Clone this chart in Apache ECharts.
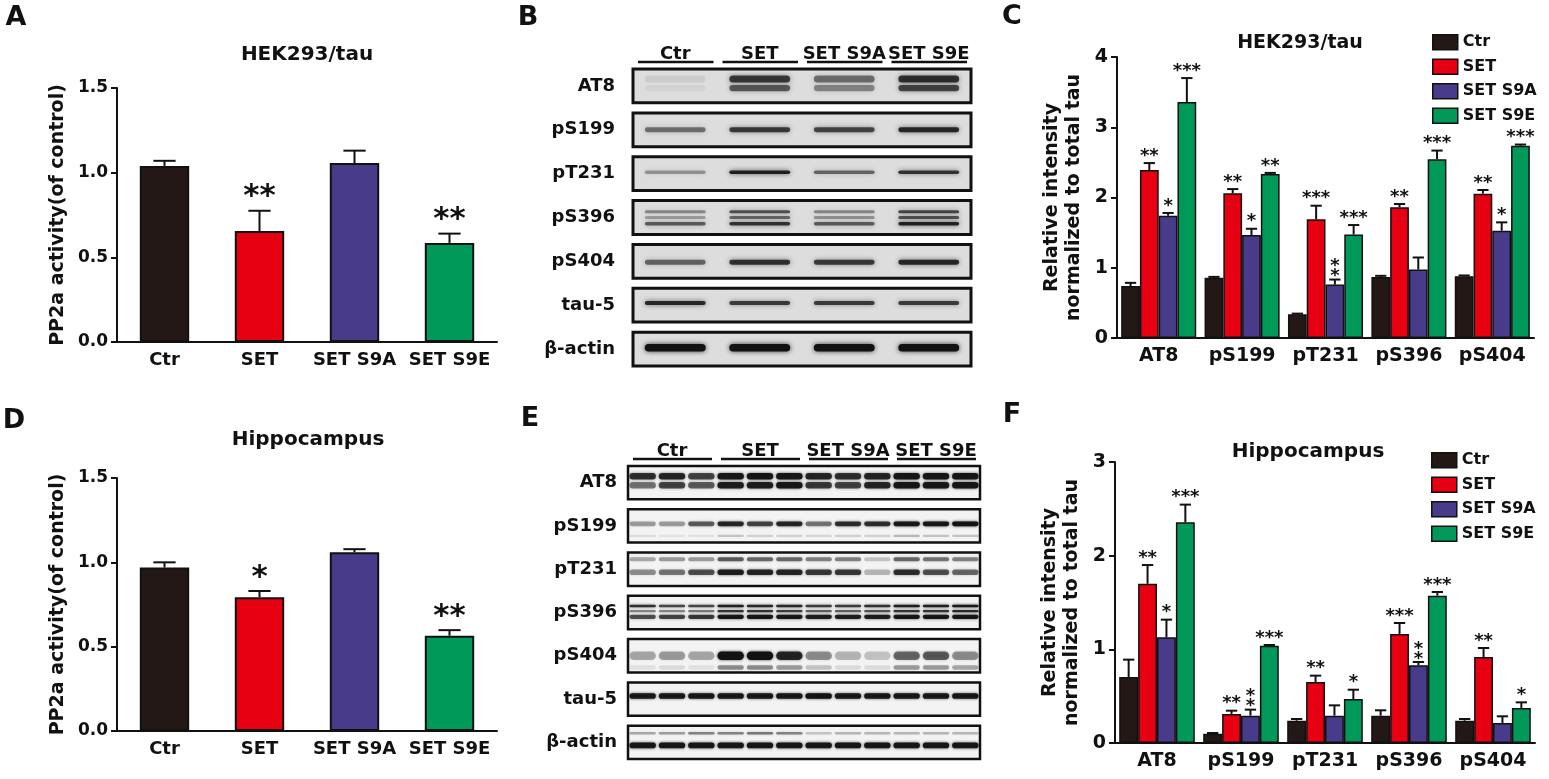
<!DOCTYPE html>
<html>
<head>
<meta charset="utf-8">
<script src="https://cdn.jsdelivr.net/npm/echarts@6/dist/echarts.min.js"></script>
<style>
html,body{margin:0;padding:0;background:#fff}
#fig{width:1549px;height:779px}
</style>
</head>
<body>
<div id="fig"></div>
<script>
var FONT = 'DejaVu Sans';

// groups and colours
var groups = ['Ctr', 'SET', 'SET S9A', 'SET S9E'];
var colors = ['#231815', '#e60012', '#483c8a', '#00995a'];

// tick labels
var ticksPP2a = [0, 0.5, 1.0, 1.5];
var ticksC = [0, 1, 2, 3, 4];
var ticksF = [0, 1, 2, 3];

// A: PP2a activity, HEK293/tau
var actA = [1.04, 0.655, 1.057, 0.585];
var errA = [1.07, 0.775, 1.13, 0.64];
var starA = ['', '**', '', '**'];

// D: PP2a activity, hippocampus
var actD = [0.969, 0.793, 1.06, 0.565];
var errD = [1.0, 0.83, 1.078, 0.598];
var starD = ['', '*', '', '**'];

// C / F: tau sites
var sites = ['AT8', 'pS199', 'pT231', 'pS396', 'pS404'];

var cCtr = [0.74, 0.856, 0.338, 0.87, 0.88];
var cSet = [2.39, 2.06, 1.69, 1.86, 2.055];
var cS9A = [1.74, 1.465, 0.76, 0.975, 1.527];
var cS9E = [3.36, 2.335, 1.474, 2.545, 2.735];
var cCtrErr = [0.785, 0.87, 0.347, 0.885, 0.89];
var cSetErr = [2.49, 2.12, 1.883, 1.907, 2.107];
var cS9AErr = [1.78, 1.555, 0.832, 1.146, 1.646];
var cS9EErr = [3.70, 2.35, 1.608, 2.668, 2.754];
var cCtrStar = ['', '', '', '', ''];
var cSetStar = ['**', '**', '***', '**', '**'];
var cS9AStar = ['*', '*', '*\n*', '', '*'];
var cS9EStar = ['***', '**', '***', '***', '***'];

var fCtr = [0.705, 0.10, 0.238, 0.292, 0.238];
var fSet = [1.70, 0.31, 0.651, 1.164, 0.918];
var fS9A = [1.128, 0.292, 0.292, 0.829, 0.214];
var fS9E = [2.356, 1.039, 0.47, 1.573, 0.374];
var fCtrErr = [0.89, 0.107, 0.256, 0.349, 0.256];
var fSetErr = [1.90, 0.345, 0.719, 1.281, 1.014];
var fS9AErr = [1.317, 0.356, 0.402, 0.865, 0.285];
var fS9EErr = [2.545, 1.046, 0.569, 1.612, 0.434];
var fCtrStar = ['', '', '', '', ''];
var fSetStar = ['**', '**', '**', '***', '**'];
var fS9AStar = ['*', '*\n*', '', '*\n*', ''];
var fS9EStar = ['***', '***', '*', '***', '*'];

// blots: rows, band offsets (fraction of row), band thickness, levels per band per lane
var blotRows = ['AT8', 'pS199', 'pT231', 'pS396', 'pS404', 'tau-5', 'β-actin'];

var bOffsets = [[-0.16, 0.05], [0], [-0.03], [-0.13, 0, 0.14], [0.02], [-0.05], [-0.03]];
var bThick = [[0.16, 0.14], [0.11], [0.08], [0.07, 0.07, 0.08], [0.11], [0.09], [0.17]];
var bLevels = [
  [[0.08, 0.75, 0.5, 0.8], [0.05, 0.6, 0.4, 0.7]],
  [[0.5, 0.75, 0.7, 0.85]],
  [[0.35, 0.9, 0.55, 0.8]],
  [[0.4, 0.65, 0.4, 0.7], [0.3, 0.55, 0.35, 0.65], [0.6, 0.8, 0.6, 0.9]],
  [[0.55, 0.8, 0.75, 0.85]],
  [[0.85, 0.75, 0.75, 0.75]],
  [[1, 1, 1, 1]]
];

var eOffsets = [[-0.15, 0.06], [-0.05, 0.23], [-0.23, 0.07], [-0.15, -0.03, 0.1], [0, 0.27], [-0.07], [-0.21, 0.07]];
var eThick = [[0.15, 0.15], [0.11, 0.05], [0.09, 0.13], [0.06, 0.05, 0.1], [0.2, 0.1], [0.13], [0.06, 0.13]];
var eLevels = [
  [[0.8, 0.85, 0.7, 0.95, 0.95, 0.95, 0.85, 0.8, 0.85, 0.95, 0.95, 0.95],
   [0.5, 0.7, 0.6, 0.9, 0.9, 0.95, 0.75, 0.7, 0.85, 0.95, 0.95, 0.95]],
  [[0.35, 0.35, 0.6, 0.85, 0.7, 0.85, 0.5, 0.8, 0.8, 0.95, 0.95, 1],
   [0.1, 0.08, 0.08, 0.2, 0.15, 0.15, 0.12, 0.15, 0.15, 0.25, 0.2, 0.2]],
  [[0.3, 0.35, 0.35, 0.6, 0.55, 0.55, 0.45, 0.45, 0.2, 0.55, 0.5, 0.45],
   [0.4, 0.5, 0.65, 0.9, 0.85, 0.85, 0.75, 0.75, 0.25, 0.8, 0.65, 0.55]],
  [[0.8, 0.7, 0.7, 0.9, 0.85, 0.85, 0.75, 0.75, 0.8, 0.9, 0.9, 0.95],
   [0.45, 0.45, 0.5, 0.8, 0.8, 0.75, 0.6, 0.6, 0.65, 0.8, 0.8, 0.85],
   [0.65, 0.7, 0.75, 0.95, 0.95, 0.95, 0.9, 0.9, 0.9, 0.95, 0.95, 0.95]],
  [[0.3, 0.35, 0.3, 1, 1, 0.85, 0.4, 0.25, 0.2, 0.55, 0.6, 0.4],
   [0.08, 0.1, 0.08, 0.4, 0.4, 0.35, 0.2, 0.1, 0.1, 0.35, 0.35, 0.3]],
  [[0.95, 0.95, 0.95, 0.95, 0.95, 0.95, 1, 0.95, 0.95, 0.95, 0.95, 0.95]],
  [[0.3, 0.35, 0.45, 0.45, 0.5, 0.45, 0.2, 0.25, 0.25, 0.25, 0.25, 0.25],
   [0.95, 0.95, 0.95, 0.95, 0.95, 0.95, 0.95, 0.95, 0.95, 0.95, 0.95, 0.95]]
];

var chart = echarts.init(document.getElementById('fig'));

function bold(size) { return {fontFamily: FONT, fontWeight: 'bold', fontSize: size, color: '#111'}; }

function xCat(grid, data, size) {
  return {
    type: 'category', gridIndex: grid, data: data,
    axisLine: {lineStyle: {color: '#111', width: 2}},
    axisTick: {alignWithLabel: true, length: 6, lineStyle: {width: 2, color: '#111'}},
    axisLabel: Object.assign(bold(size), {margin: 9, interval: 0})
  };
}

function yVal(grid, ticks, size, name, gap, fmt) {
  return {
    type: 'value', gridIndex: grid,
    min: ticks[0], max: ticks[ticks.length - 1], interval: ticks[1] - ticks[0],
    name: name, nameLocation: 'middle', nameGap: gap, nameRotate: 90,
    nameTextStyle: Object.assign(bold(19), {lineHeight: 22}),
    axisLine: {show: true, lineStyle: {color: '#111', width: 2}},
    axisTick: {show: true, length: 6, lineStyle: {width: 2, color: '#111'}},
    splitLine: {show: false},
    axisLabel: Object.assign(bold(size), {margin: 9, formatter: fmt})
  };
}

// error bar + significance stars
function errRender(stars, k, n, capFrac, starSize, barFrac) {
  return function (params, api) {
    var i = api.value(0);
    var base = api.coord([i, api.value(1)]);
    var top = api.coord([i, api.value(2)]);
    var W = api.size([1, 0])[0];
    var bw = n === 1 ? W * barFrac : W * 0.9 / n;
    var cx = n === 1 ? base[0] : base[0] + (k - (n - 1) / 2) * bw;
    var hw = bw * capFrac / 2;
    var kids = [
      {type: 'line', shape: {x1: cx, y1: base[1], x2: cx, y2: top[1]}, style: {stroke: '#111', lineWidth: 2}},
      {type: 'line', shape: {x1: cx - hw, y1: top[1], x2: cx + hw, y2: top[1]}, style: {stroke: '#111', lineWidth: 2}}
    ];
    var s = stars[params.dataIndex];
    if (s) {
      kids.push({type: 'text', x: cx, y: top[1] + 2, style: {
        text: s, font: 'bold ' + starSize + 'px ' + FONT, fill: '#111',
        textAlign: 'center', textVerticalAlign: 'bottom', lineHeight: s.indexOf('\n') >= 0 ? 10 : starSize
      }});
    }
    return {type: 'group', children: kids};
  };
}

var series = [];

function singleBars(grid, act, err, stars) {
  series.push({
    type: 'bar', xAxisIndex: grid, yAxisIndex: grid, barWidth: '52%',
    data: act.map(function (v, i) { return {value: v, itemStyle: {color: colors[i]}}; }),
    itemStyle: {borderColor: '#111', borderWidth: 2}, z: 2
  });
  series.push({
    type: 'custom', xAxisIndex: grid, yAxisIndex: grid, z: 3,
    data: act.map(function (v, i) { return [i, v, err[i]]; }),
    renderItem: errRender(stars, 0, 1, 0.45, 31, 0.52)
  });
}

function groupedBars(grid, vals, errs, stars) {
  vals.forEach(function (v, k) {
    series.push({
      type: 'bar', name: groups[k], xAxisIndex: grid, yAxisIndex: grid,
      barGap: '0%', barCategoryGap: '10%', data: v,
      itemStyle: {color: colors[k], borderColor: '#111', borderWidth: 1.5}, z: 2
    });
  });
  vals.forEach(function (v, k) {
    series.push({
      type: 'custom', xAxisIndex: grid, yAxisIndex: grid, z: 3,
      data: v.map(function (m, i) { return [i, m, errs[k][i]]; }),
      renderItem: errRender(stars[k], k, 4, 0.6, 18)
    });
  });
}

singleBars(0, actA, errA, starA);
singleBars(1, actD, errD, starD);
groupedBars(2, [cCtr, cSet, cS9A, cS9E], [cCtrErr, cSetErr, cS9AErr, cS9EErr], [cCtrStar, cSetStar, cS9AStar, cS9EStar]);
groupedBars(3, [fCtr, fSet, fS9A, fS9E], [fCtrErr, fSetErr, fS9AErr, fS9EErr], [fCtrStar, fSetStar, fS9AStar, fS9EStar]);

// western blot panels
function blot(grid, nLanes, perGroup, offsets, thick, levels, bg, lw, laneFrac, blur) {
  var boxFrac = 0.77;
  series.push({
    type: 'custom', xAxisIndex: grid, yAxisIndex: grid, silent: true, z: 1,
    data: blotRows.map(function (r, i) { return [0, i]; }),
    renderItem: function (params, api) {
      var i = api.value(1);
      var p0 = api.coord([0, i]), p1 = api.coord([nLanes, i]);
      var h = api.size([0, 1])[1] * boxFrac;
      return {type: 'rect', shape: {x: p0[0], y: p0[1] - h / 2, width: p1[0] - p0[0], height: h},
        style: {fill: bg, stroke: '#111', lineWidth: lw}};
    }
  });
  var bands = [];
  levels.forEach(function (row, r) {
    row.forEach(function (lanes, b) {
      lanes.forEach(function (a, l) { bands.push([l + 0.5, r, a, offsets[r][b], thick[r][b]]); });
    });
  });
  series.push({
    type: 'custom', xAxisIndex: grid, yAxisIndex: grid, silent: true, z: 2,
    data: bands,
    renderItem: function (params, api) {
      var c = api.coord([api.value(0), api.value(1)]);
      var w = api.size([1, 0])[0] * laneFrac;
      var rowH = api.size([0, 1])[1];
      var h = Math.max(2, api.value(4) * rowH);
      var y = c[1] + api.value(3) * rowH;
      var a = api.value(2);
      return {type: 'rect', shape: {x: c[0] - w / 2, y: y - h / 2, width: w, height: h, r: h / 2},
        style: {fill: 'rgba(18,18,18,' + a + ')', shadowBlur: blur, shadowColor: 'rgba(18,18,18,' + (a * 0.8) + ')'}};
    }
  });
  series.push({
    type: 'custom', xAxisIndex: grid, yAxisIndex: grid, silent: true, z: 2,
    data: groups.map(function (g, i) { return [i * perGroup, 0]; }),
    renderItem: function (params, api) {
      var g = params.dataIndex;
      var a = api.coord([g * perGroup, 0]), b = api.coord([(g + 1) * perGroup, 0]);
      var top = a[1] - api.size([0, 1])[1] * boxFrac / 2;
      var uy = top - 7;
      var x0 = a[0] + 5, x1 = b[0] - 4;
      return {type: 'group', children: [
        {type: 'line', shape: {x1: x0, y1: uy, x2: x1, y2: uy}, style: {stroke: '#111', lineWidth: 2.5}},
        {type: 'text', x: (a[0] + b[0]) / 2, y: uy + 1, style: {text: groups[g], font: 'bold 18px ' + FONT, fill: '#111',
          textAlign: 'center', textVerticalAlign: 'bottom'}}
      ]};
    }
  });
}

blot(4, 4, 1, bOffsets, bThick, bLevels, '#dddddd', 3, 0.72, 5);
blot(5, 12, 3, eOffsets, eThick, eLevels, '#f3f3f3', 2.5, 0.9, 3);

function blotAxes(grid, nLanes, margin) {
  return {
    x: {type: 'value', gridIndex: grid, min: 0, max: nLanes, show: false},
    y: {type: 'category', gridIndex: grid, data: blotRows, inverse: true,
      axisLine: {show: false}, axisTick: {show: false},
      axisLabel: Object.assign(bold(18), {margin: margin})}
  };
}
var axB = blotAxes(4, 4, 18), axE = blotAxes(5, 12, 11);

function txt(s, x, y, size) {
  return {type: 'text', x: x, y: y, style: {text: s, font: 'bold ' + size + 'px ' + FONT, fill: '#111',
    textAlign: 'center', textVerticalAlign: 'middle'}};
}

var legendBase = {
  orient: 'vertical', data: groups, itemWidth: 25, itemHeight: 15, itemGap: 8,
  icon: 'rect', textStyle: bold(16), itemStyle: {borderColor: '#111', borderWidth: 1.5}
};

var option = {
  animation: false,
  backgroundColor: '#fff',
  grid: [
    {left: 117, top: 88, width: 380, height: 254},
    {left: 117, top: 478, width: 380, height: 253},
    {left: 1117, top: 57, width: 417, height: 281},
    {left: 1115, top: 462, width: 420, height: 281},
    {left: 633, top: 64, width: 338, height: 307},
    {left: 628, top: 461, width: 352, height: 303}
  ],
  xAxis: [
    xCat(0, groups, 18), xCat(1, groups, 18), xCat(2, sites, 19), xCat(3, sites, 19), axB.x, axE.x
  ],
  yAxis: [
    yVal(0, ticksPP2a, 17, 'PP2a activity(of control)', 48, function (v) { return v.toFixed(1); }),
    yVal(1, ticksPP2a, 17, 'PP2a activity(of control)', 48, function (v) { return v.toFixed(1); }),
    yVal(2, ticksC, 19, 'Relative intensity\nnormalized to total tau', 32),
    yVal(3, ticksF, 19, 'Relative intensity\nnormalized to total tau', 32),
    axB.y, axE.y
  ],
  legend: [
    Object.assign({left: 1427, top: 29}, legendBase),
    Object.assign({left: 1426, top: 447}, legendBase)
  ],
  graphic: [
    txt('A', 16, 18, 27), txt('B', 528, 18, 27), txt('C', 1012, 17, 27),
    txt('D', 14, 421, 27), txt('E', 530, 419, 27), txt('F', 1012, 415, 27),
    txt('HEK293/tau', 307, 55, 20), txt('Hippocampus', 308, 440, 20),
    txt('HEK293/tau', 1300, 43, 19), txt('Hippocampus', 1308, 452, 20)
  ],
  series: series
};

chart.setOption(option);
</script>
</body>
</html>
